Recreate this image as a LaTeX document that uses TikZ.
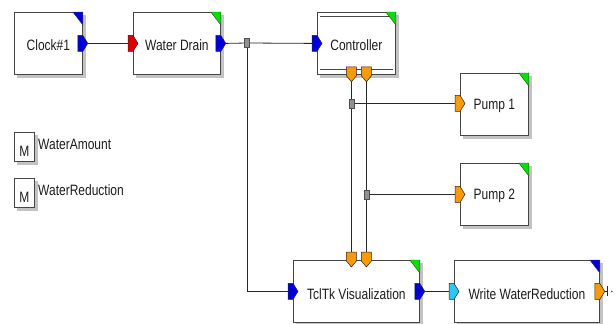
\documentclass[tikz,border=0pt]{standalone}
\usepackage{fontspec}
\setmainfont{Liberation Sans}
\usepackage{graphicx}
\definecolor{cblue}{RGB}{0,0,215}
\definecolor{cred}{RGB}{220,0,0}
\definecolor{corange}{RGB}{255,153,0}
\definecolor{ccyan}{RGB}{40,200,240}
\definecolor{cgreen}{RGB}{0,225,0}
\definecolor{shadowc}{RGB}{195,195,195}
\definecolor{boxc}{RGB}{70,70,70}
\definecolor{wirec}{RGB}{40,40,40}
\definecolor{txtc}{RGB}{30,30,30}
\definecolor{juncf}{RGB}{145,145,145}
\definecolor{juncd}{RGB}{80,80,80}
\newcommand{\stx}[1]{\scalebox{1}[1.25]{#1}}
\newcommand{\cornertri}[2]{\filldraw[fill=#2, draw=black!75, line width=0.4pt] ([xshift=-10pt]#1.north east) -- (#1.north east) -- ([yshift=-13pt]#1.north east) -- cycle;}
\pgfdeclarelayer{back}
\pgfdeclarelayer{bg}
\pgfsetlayers{back,bg,main}
\tikzset{
  blk/.style={rectangle, draw=boxc, fill=white, line width=0.8pt, inner sep=0pt, anchor=north west,
    preaction={draw=shadowc, fill=shadowc, line width=0.8pt, transform canvas={xshift=3pt, yshift=-3pt}}},
  lbl/.style={font=\fontsize{12}{14}\selectfont, text=txtc, inner sep=0pt},
  wire/.style={draw=wirec, line width=0.8pt},
  junc/.style={rectangle, draw=juncd, fill=juncf, line width=0.5pt, minimum width=5pt, minimum height=9pt, inner sep=0pt},
  portst/.style={draw=black!85, line width=0.5pt},
  pics/pR/.style={code={
    \draw[portst, fill=#1] (-5,-8) -- (0,-8) -- (5,0) -- (0,8) -- (-5,8) -- cycle;
    \coordinate (-tip) at (5,0);
    \coordinate (-back) at (-5,0);}},
  pics/pD/.style={code={
    \draw[portst, fill=#1] (-5,-8) -- (5,-8) -- (5,1) -- (0,7) -- (-5,1) -- cycle;
    \coordinate (-tip) at (0,7);
    \coordinate (-top) at (0,-8);}},
}
\begin{document}
\begin{tikzpicture}[x=1pt,y=-1pt]
\begin{pgfonlayer}{back}
\fill[white] (0,0) rectangle (616,324);
\end{pgfonlayer}
\useasboundingbox (0,0) rectangle (616,324);

% blocks
\node[blk, minimum width=68pt, minimum height=62pt] (clk) at (14,12) {};
\node[blk, minimum width=87pt, minimum height=62pt] (wd) at (133,12) {};
\node[blk, minimum width=78pt, minimum height=62pt] (ctrl) at (317,12) {};
\node[blk, minimum width=68pt, minimum height=62pt] (p1) at (460,73) {};
\node[blk, minimum width=68pt, minimum height=62pt] (p2) at (460,163) {};
\node[blk, minimum width=126pt, minimum height=62pt] (tcl) at (293,260) {};
\node[blk, minimum width=145pt, minimum height=62pt] (wr) at (454,260) {};

% controller inner lines
\draw[boxc, line width=0.8pt] ([xshift=3pt,yshift=-4pt]ctrl.north west) -- ([xshift=-3pt,yshift=-4pt]ctrl.north east);
\draw[boxc, line width=0.8pt] ([xshift=3pt,yshift=5pt]ctrl.south west) -- ([xshift=-3pt,yshift=5pt]ctrl.south east);

% corner triangles
\cornertri{clk}{cblue}
\cornertri{wd}{cgreen}
\cornertri{ctrl}{cgreen}
\cornertri{p1}{cgreen}
\cornertri{p2}{cgreen}
\cornertri{tcl}{cgreen}
\cornertri{wr}{cblue}

% labels
\node[lbl] (clk-t) at ([yshift=-2pt]clk.center) {\stx{Clock\#1}};
\node[lbl] (wd-t) at ([yshift=-2pt]wd.center) {\stx{Water Drain}};
\node[lbl] (ctrl-t) at ([yshift=-2pt]ctrl.center) {\stx{Controller}};
\node[lbl] (p1-t) at ([yshift=-1pt]p1.center) {\stx{Pump 1}};
\node[lbl] (p2-t) at ([yshift=-1pt]p2.center) {\stx{Pump 2}};
\node[lbl] (tcl-t) at ([yshift=-3pt]tcl.center) {\stx{TclTk Visualization}};
\node[lbl] (wr-t) at ([yshift=-3pt]wr.center) {\stx{Write WaterReduction}};

% M boxes
\node[blk, minimum width=20pt, minimum height=29pt] (m1) at (14,132) {};
\node[blk, minimum width=20pt, minimum height=29pt] (m2) at (14,178) {};
\node[lbl] (m1-t) at ([yshift=-4pt]m1.center) {\stx{M}};
\node[lbl] (m2-t) at ([yshift=-4pt]m2.center) {\stx{M}};
\node[lbl, anchor=west] (m1-l) at (38,144) {\stx{WaterAmount}};
\node[lbl, anchor=west] (m2-l) at (38,190) {\stx{WaterReduction}};

% ports
\pic (clko) at (clk.east) {pR=cblue};
\pic (wdi) at (wd.west) {pR=cred};
\pic (wdo) at (wd.east) {pR=cblue};
\pic (ctrli) at (ctrl.west) {pR=cblue};
\pic (cd1) at ([xshift=-5pt]ctrl.south) {pD=corange};
\pic (cd2) at ([xshift=10pt]ctrl.south) {pD=corange};
\pic (p1i) at ([yshift=1pt]p1.west) {pR=corange};
\pic (p2i) at (p2.west) {pR=corange};
\pic (tcli) at (tcl.west) {pR=cblue};
\pic (tclo) at (tcl.east) {pR=cblue};
\pic (td1) at ([xshift=-5pt]tcl.north) {pD=corange};
\pic (td2) at ([xshift=10pt]tcl.north) {pD=corange};
\pic (wri) at (wr.west) {pR=ccyan};
\pic (wro) at (wr.east) {pR=corange};

% junctions
\node[junc] (j1) at (247,43) {};
\node[junc] (j2) at (cd1-tip |- p1i-back) {};
\node[junc] (j3) at (cd2-tip |- p2i-back) {};

% wires
\begin{pgfonlayer}{bg}
\draw[wire] (clko-tip) -- (wdi-back);
\draw[wire] (wdo-tip) -- (j1.center) -- (ctrli-back);
\draw[wire] (j1.center) |- (tcli-back);
\draw[wire] (cd1-tip) -- (td1-top);
\draw[wire] (cd2-tip) -- (td2-top);
\draw[wire] (j2.center) -- (p1i-back);
\draw[wire] (j3.center) -- (p2i-back);
\draw[wire] (tclo-tip) -- (wri-back);
\end{pgfonlayer}

% open output terminator
\coordinate (term) at ([xshift=3pt]wro-tip);
\draw[wire, line width=0.6pt] (wro-tip) -- (term);
\draw[wire, line width=0.8pt] ([yshift=5pt]term) -- ([yshift=-5pt]term);
\fill[wirec] ([xshift=4pt]term) circle (0.8pt);
\end{tikzpicture}
\end{document}
